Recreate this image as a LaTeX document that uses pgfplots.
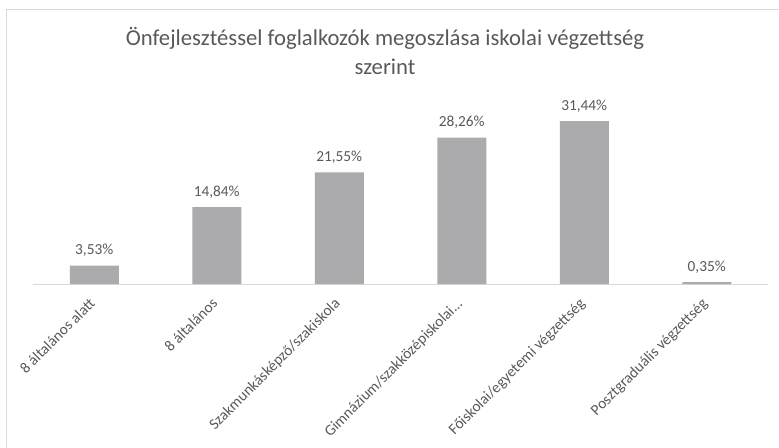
\documentclass[border=0pt]{standalone}
\usepackage{pgfplots}
\pgfplotsset{compat=1.18}
\usepackage{fontspec}
\setmainfont{Carlito}
\definecolor{txt}{HTML}{595959}
\definecolor{frm}{HTML}{D9D9D9}
\definecolor{bar}{HTML}{ABABAD}
\begin{document}
\begin{tikzpicture}
\useasboundingbox (-24.75pt,-122.25pt) rectangle (559.5pt,213pt);
\draw[frm, line width=0.75pt] (-19.875pt,-140pt) -- (-19.875pt,205.9pt) -- (580pt,205.9pt);
\begin{axis}[
  scale only axis,
  width=551.25pt, height=136pt,
  xmin=-0.5, xmax=5.5, ymin=0, ymax=35,
  axis x line=bottom, axis y line=none,
  x axis line style={draw=frm, line width=0.75pt, -},
  major tick length=0pt,
  ytick=\empty,
  xtick={0,1,2,3,4,5},
  xticklabels={8 általános alatt, 8 általános, Szakmunkásképző/szakiskola, {Gimnázium/szakközépiskolai.\relax.\relax.}, Főiskolai/egyetemi végzettség, Posztgraduális végzettség},
  xticklabel style={xshift=-4.5pt, yshift=-9.5pt, rotate=45, anchor=north east, inner sep=0pt, font=\fontsize{11.5}{13}\selectfont, text=txt},
  clip=false,
  nodes near coords={\pgfmathprintnumber[fixed,fixed zerofill,precision=2,use comma,assume math mode=true]{\pgfplotspointmeta}\%},
  nodes near coords style={anchor=south, inner sep=0pt, yshift=6.5pt, font=\fontsize{11.5}{13}\selectfont, text=txt},
]
\addplot[ybar, bar width=0.4, fill=bar, draw=none] coordinates {
  (0,3.53) (1,14.84) (2,21.55) (3,28.26) (4,31.44) (5,0.35)
};
\end{axis}
\node[anchor=base, text=txt, font=\fontsize{17}{20}\selectfont] at (264pt,178.7pt) {Önfejlesztéssel foglalkozók megoszlása iskolai végzettség};
\node[anchor=base, text=txt, font=\fontsize{17}{20}\selectfont] at (264pt,157pt) {szerint};
\end{tikzpicture}
\end{document}
